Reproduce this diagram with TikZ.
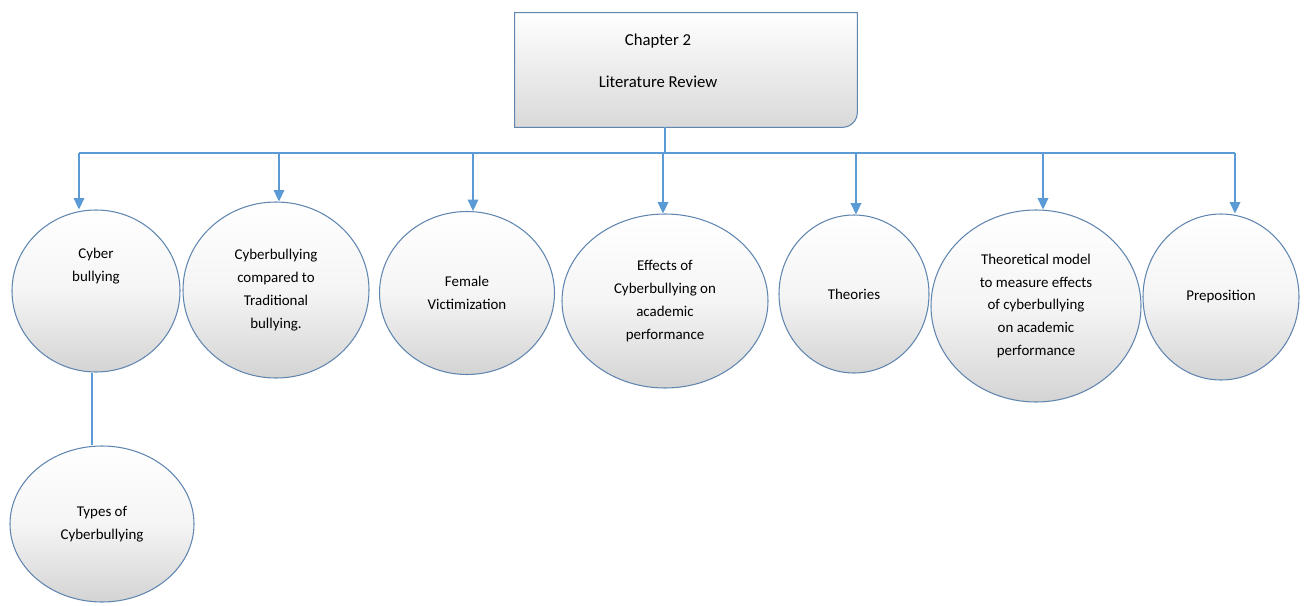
\documentclass[tikz,border=0pt]{standalone}
\usepackage{fontspec}
\setmainfont{Carlito}
\usetikzlibrary{arrows.meta,shapes.geometric,backgrounds}
\definecolor{linkblue}{RGB}{91,155,213}
\definecolor{rimblue}{RGB}{96,134,176}
\tikzset{
  bubble/.style={ellipse, draw=rimblue, line width=0.6pt, top color=white, bottom color=black!17, middle color=white!96!black, align=center, inner sep=0pt, font=\fontsize{8.5}{13}\selectfont},
  link/.style={draw=linkblue, line width=1.1pt},
  arrow/.style={link, -{Triangle[width=6pt,length=6.5pt]}}
}
\begin{document}
\begin{tikzpicture}
    \useasboundingbox (0,0) rectangle (26.14,-12.12);
    \node[minimum width=6.84cm, minimum height=2.28cm] (chap) at (13.72,-1.40) {};
    \node[align=center, font=\fontsize{9.5}{24}\selectfont] (title) at (13.16,-1.22) {Chapter 2\\Literature Review};
    \begin{scope}[on background layer]
    \shadedraw[draw=rimblue, line width=0.6pt, top color=white, bottom color=black!15] (chap.north west) -- (chap.north east) -- ([yshift=0.3cm]chap.south east) arc[start angle=0, end angle=-90, radius=0.3cm] -- (chap.south west) -- cycle;
    \end{scope}

    \node[bubble, minimum width=3.36cm, minimum height=3.24cm] (cb) at (1.92,-5.82) {Cyber\\bullying\\[0.58cm]\mbox{}};
    \node[bubble, minimum width=3.72cm, minimum height=3.52cm] (ct) at (5.52,-5.80) {Cyberbullying\\compared to\\Traditional\\bullying.};
    \node[bubble, minimum width=3.50cm, minimum height=3.26cm] (fv) at (9.34,-5.86) {Female\\Victimization};
    \node[bubble, minimum width=4.12cm, minimum height=3.48cm] (ef) at (13.30,-6.02) {Effects of\\Cyberbullying on\\academic\\performance};
    \node[bubble, minimum width=3.00cm, minimum height=3.16cm] (th) at (17.08,-5.88) {Theories};
    \node[bubble, minimum width=4.20cm, minimum height=3.84cm] (tm) at (20.72,-6.12) {Theoretical model\\to measure effects\\of cyberbullying\\on academic\\performance};
    \node[bubble, minimum width=3.12cm, minimum height=3.32cm] (pp) at (24.42,-5.94) {Preposition};
    \node[bubble, minimum width=3.68cm, minimum height=3.12cm] (ty) at (2.04,-10.48) {Types of\\Cyberbullying};

    \coordinate (trunk) at (13.30,-3.06);
    \coordinate (b1) at (1.58,-3.06);
    \coordinate (b2) at (5.58,-3.06);
    \coordinate (b3) at (9.46,-3.06);
    \coordinate (b4) at (13.26,-3.06);
    \coordinate (b5) at (17.12,-3.06);
    \coordinate (b6) at (20.86,-3.06);
    \coordinate (b7) at (24.70,-3.06);

    \draw[link] (trunk |- chap.south) -- (trunk);
    \draw[link] (b1) -- (b7);
    \draw[arrow] (b1) -- (b1 |- cb.north);
    \draw[arrow] (b2) -- (b2 |- ct.north);
    \draw[arrow] (b3) -- (b3 |- fv.north);
    \draw[arrow] (b4) -- (b4 |- ef.north);
    \draw[arrow] (b5) -- (b5 |- th.north);
    \draw[arrow] (b6) -- (b6 |- tm.north);
    \draw[arrow] (b7) -- (b7 |- pp.north);
    \draw[link] ([xshift=-0.08cm]cb.south) -- ([xshift=-0.08cm]cb.south |- ty.north);
\end{tikzpicture}
\end{document}
